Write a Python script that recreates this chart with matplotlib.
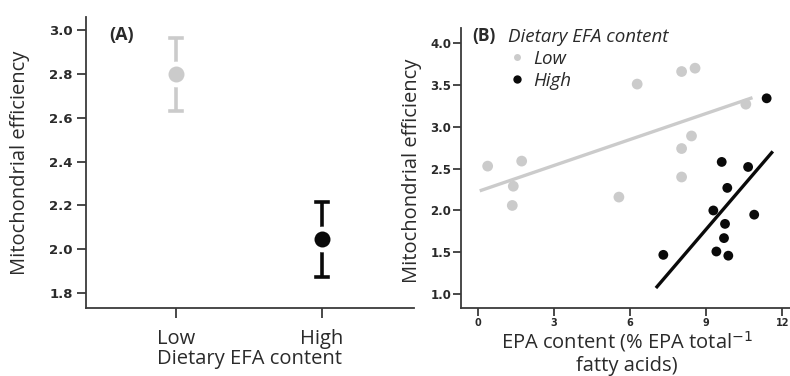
import matplotlib
matplotlib.use("Agg")
import matplotlib.pyplot as plt
from matplotlib.lines import Line2D
import numpy as np

plt.rcParams['font.family'] = ['Open Sans', 'DejaVu Sans']

# panel A: group means with error bars
groups = ['Low', 'High']
means = [2.80, 2.045]
err_lo = [2.632, 1.873]
err_hi = [2.964, 2.214]

# panel B: EPA content vs mitochondrial efficiency
low_x = [0.39, 1.40, 1.36, 1.73, 5.56, 6.28, 8.03, 8.56, 8.03, 8.42, 8.03, 10.56]
low_y = [2.53, 2.29, 2.06, 2.59, 2.16, 3.51, 3.66, 3.70, 2.74, 2.89, 2.40, 3.27]
high_x = [7.31, 9.61, 9.28, 9.83, 9.74, 9.70, 9.40, 9.87, 10.65, 10.89, 11.38]
high_y = [1.47, 2.58, 2.00, 2.27, 1.84, 1.67, 1.51, 1.46, 2.52, 1.95, 3.34]

GREY = '#cbcbcb'
BLACK = '#0a0a0a'
TXT = '#2a2a2a'
SPINE = '#3a3a3a'
LABEL_SIZE = 14.5

fig = plt.figure(figsize=(7.9, 3.76), dpi=100)
ax_a = fig.add_axes([86/790, 1-308/376, 328/790, 291/376])
ax_b = fig.add_axes([461/790, 1-308/376, 329/790, 280/376])

for ax in (ax_a, ax_b):
    ax.spines['top'].set_visible(False)
    ax.spines['right'].set_visible(False)
    for s in ('left', 'bottom'):
        ax.spines[s].set_color(SPINE)
        ax.spines[s].set_linewidth(1.3)

# ---- panel A
colors = [GREY, BLACK]
for i, g in enumerate(groups):
    ax_a.plot([i, i], [err_lo[i], err_hi[i]], color=colors[i], lw=2.6, zorder=2,
              solid_capstyle='butt')
    for yy in (err_lo[i], err_hi[i]):
        ax_a.plot([i - 0.04, i + 0.04], [yy, yy], color=colors[i], lw=2.6, zorder=2)
    ax_a.plot(i, means[i], 'o', ms=18.5, color='white', mec='none', zorder=3)
    ax_a.plot(i, means[i], 'o', ms=11.5, color=colors[i], mec='none', zorder=4)

ax_a.set_xlim(-0.616, 1.63)
ax_a.set_ylim(1.732, 3.06)
ax_a.set_yticks([1.8, 2.0, 2.2, 2.4, 2.6, 2.8, 3.0])
ax_a.set_yticklabels(['1.8', '2.0', '2.2', '2.4', '2.6', '2.8', '3.0'],
                     fontfamily='DejaVu Sans', fontweight='bold', fontsize=9.5)
ax_a.set_xticks([0, 1])
ax_a.set_xticklabels(groups, fontsize=LABEL_SIZE)
ax_a.tick_params(axis='y', direction='out', length=6.5, width=1.3, color=SPINE,
                 pad=3, labelcolor=TXT)
ax_a.tick_params(axis='x', direction='out', length=7, width=1.3, color=SPINE,
                 pad=8, labelcolor=TXT)
ax_a.set_ylabel('Mitochondrial efficiency', fontsize=LABEL_SIZE, color=TXT)
ax_a.yaxis.set_label_coords(-0.171, 0.5)
ax_a.set_xlabel('Dietary EFA content', fontsize=LABEL_SIZE, color=TXT)
ax_a.xaxis.set_label_coords(0.497, -0.141)
ax_a.text(0.07, 0.938, '(A)', transform=ax_a.transAxes, fontsize=13,
          fontweight='bold', color=TXT, va='center', ha='left')

# ---- panel B
ax_b.scatter(low_x, low_y, s=60, color=GREY, edgecolors='none', zorder=3)
ax_b.scatter(high_x, high_y, s=50, color=BLACK, edgecolors='none', zorder=3)

for xs, ys, c in ((low_x, low_y, GREY), (high_x, high_y, BLACK)):
    k, b = np.polyfit(xs, ys, 1)
    xx = np.array([min(xs) - 0.25, max(xs) + 0.2])
    ax_b.plot(xx, k * xx + b, color=c, lw=2.4, zorder=2)

ax_b.set_xlim(-0.66, 12.3)
ax_b.set_ylim(0.835, 4.18)
ax_b.set_xticks([0, 3, 6, 9, 12])
ax_b.set_xticklabels(['0', '3', '6', '9', '12'], fontfamily='DejaVu Sans',
                     fontweight='bold', fontsize=7)
ax_b.set_yticks([1.0, 1.5, 2.0, 2.5, 3.0, 3.5, 4.0])
ax_b.set_yticklabels(['1.0', '1.5', '2.0', '2.5', '3.0', '3.5', '4.0'],
                     fontfamily='DejaVu Sans', fontweight='bold', fontsize=8.5)
ax_b.tick_params(axis='both', direction='out', length=6, width=1.3, color=SPINE,
                 pad=1, labelcolor=TXT)
ax_b.set_ylabel('Mitochondrial efficiency', fontsize=LABEL_SIZE, color=TXT)
ax_b.yaxis.set_label_coords(-0.118, 0.49)
ax_b.set_xlabel('EPA content (% EPA total$^{-1}$\nfatty acids)', fontsize=LABEL_SIZE,
                color=TXT, linespacing=1.15)
ax_b.xaxis.set_label_coords(0.505, -0.075)
ax_b.text(0.033, 0.971, '(B)', transform=ax_b.transAxes, fontsize=12.5,
          fontweight='bold', color=TXT, va='center', ha='left')

handles = [Line2D([], [], ls='none', marker='o', ms=5, color=GREY, mec='none'),
           Line2D([], [], ls='none', marker='o', ms=6, color=BLACK, mec='none')]
leg = ax_b.legend(handles, ['Low', 'High'], title='Dietary EFA content',
                  loc='upper left', bbox_to_anchor=(0.143, 1.0), frameon=False,
                  alignment='left', borderpad=0, borderaxespad=0,
                  handlelength=1.0, handletextpad=0.33, labelspacing=0.2,
                  prop={'style': 'italic', 'size': 13.5},
                  title_fontproperties={'style': 'italic', 'size': 13.5})
for t in leg.get_texts():
    t.set_color(TXT)
leg.get_title().set_color(TXT)

fig.savefig('out.png', dpi=100)
